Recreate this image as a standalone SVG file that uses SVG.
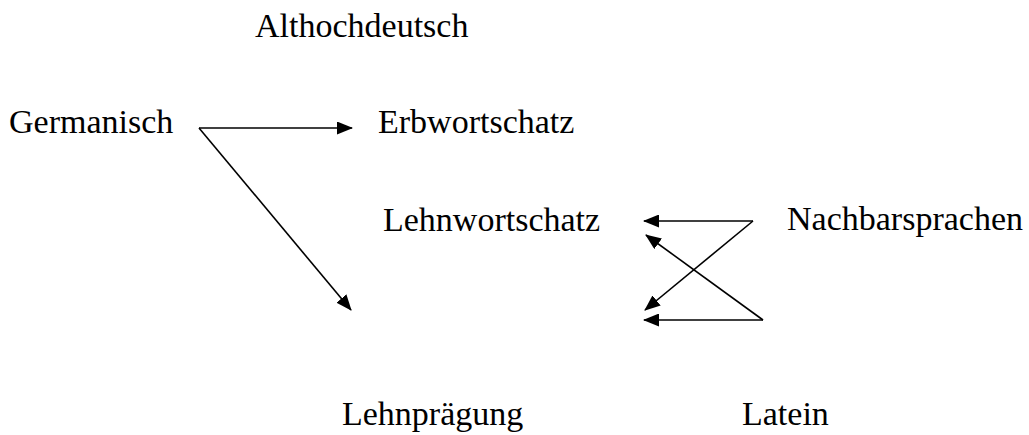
<svg xmlns="http://www.w3.org/2000/svg" width="1029" height="435" viewBox="0 0 1029 435">
<style>
text{font-family:"Liberation Serif","Times New Roman",serif;font-size:34px;fill:#000}
.c line{stroke:#000;stroke-width:1.6;fill:none;marker-end:url(#ah)}
</style>
<defs>
<marker id="ah" markerUnits="userSpaceOnUse" markerWidth="16" markerHeight="13" refX="15" refY="6.5" orient="auto">
<path d="M0,0 L16,6.5 L0,13 Z" fill="#000"/>
</marker>
</defs>
<rect width="1029" height="435" fill="#fff"/>
<g id="althochdeutsch"><text x="255" y="37">Althochdeutsch</text></g>
<g id="germanisch"><text x="9" y="133">Germanisch</text></g>
<g id="erbwortschatz"><text x="378" y="133">Erbwortschatz</text></g>
<g id="lehnwortschatz"><text x="383" y="231">Lehnwortschatz</text></g>
<g id="nachbarsprachen"><text x="787" y="230">Nachbarsprachen</text></g>
<g id="lehnpraegung"><text x="342" y="425">Lehnprägung</text></g>
<g id="latein"><text x="742" y="425">Latein</text></g>
<g class="c" id="connectors">
<line x1="199" y1="128" x2="352" y2="128"/>
<line x1="199" y1="128" x2="351" y2="310"/>
<line x1="753" y1="221" x2="644" y2="221"/>
<line x1="753" y1="221" x2="645" y2="310"/>
<line x1="763" y1="320" x2="646" y2="235"/>
<line x1="763" y1="320" x2="644" y2="320"/>
</g>
</svg>
